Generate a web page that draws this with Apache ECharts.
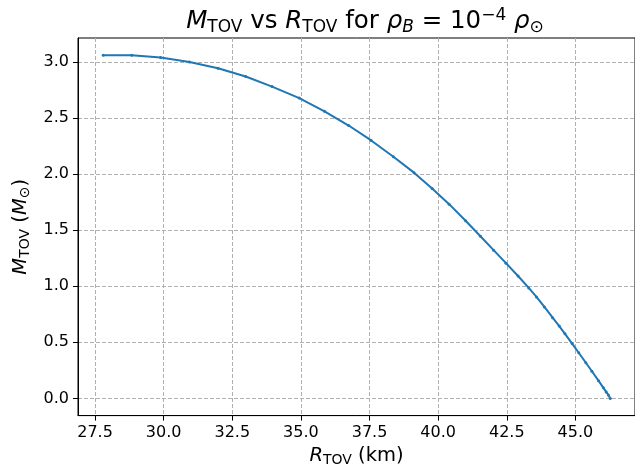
<!DOCTYPE html>
<html>
<head>
<meta charset="utf-8">
<script src="https://cdn.jsdelivr.net/npm/echarts@6/dist/echarts.min.js"></script>
<style>html,body{margin:0;padding:0;background:#fff}#c{width:635px;height:472px}</style>
</head>
<body>
<div id="c"></div>
<script>
const radiusKm = [27.80, 28.84, 29.89, 30.94, 31.98, 32.99, 33.95, 34.94, 35.86, 36.74, 37.56, 38.37, 39.12, 39.78, 40.40, 41.00, 41.54, 42.02, 42.47, 42.91, 43.30, 43.58, 43.87, 44.17, 44.41, 44.62, 44.88, 45.12, 45.38, 45.60, 45.84, 46.02, 46.12, 46.20, 46.27];
const massSun = [3.06, 3.06, 3.04, 3.00, 2.944, 2.87, 2.78, 2.678, 2.56, 2.433, 2.30, 2.155, 2.013, 1.872, 1.732, 1.584, 1.446, 1.322, 1.206, 1.091, 0.985, 0.905, 0.815, 0.72, 0.645, 0.576, 0.489, 0.407, 0.318, 0.242, 0.158, 0.094, 0.058, 0.03, 0.0];
const xTicks = [27.5, 30.0, 32.5, 35.0, 37.5, 40.0, 42.5, 45.0];
const yTicks = [0.0, 0.5, 1.0, 1.5, 2.0, 2.5, 3.0];

const FONT = 'DejaVu Sans';
const chart = echarts.init(document.getElementById('c'), null, {renderer: 'canvas'});
const gridStyle = {show: true, lineStyle: {color: '#b0b0b0', width: 1, type: [4, 2]}};
const axisNameRich = {
  i: {fontFamily: FONT, fontSize: 19.5, fontStyle: 'italic', fontWeight: 'normal', color: '#000'},
  n: {fontFamily: FONT, fontSize: 19.5, fontWeight: 'normal', color: '#000'},
  s: {fontFamily: FONT, fontSize: 14, fontWeight: 'normal', color: '#000', padding: [9, 0, 0, 0]}
};
chart.setOption({
  animation: false,
  backgroundColor: '#fff',
  title: {
    text: '{i|M}{s|TOV}{n| vs }{i|R}{s|TOV}{n| for }{i|ρ}{si|B}{n| = 10}{p|−4}{i| ρ}{s|⊙}',
    left: 360,
    textAlign: 'center',
    top: 2,
    textStyle: {
      fontWeight: 'normal',
      rich: {
        i: {fontFamily: FONT, fontSize: 24.5, fontStyle: 'italic', fontWeight: 'normal', color: '#000'},
        n: {fontFamily: FONT, fontSize: 24.5, fontWeight: 'normal', color: '#000'},
        s: {fontFamily: FONT, fontSize: 17, fontWeight: 'normal', color: '#000', padding: [11, 0, 0, 0]},
        si: {fontFamily: FONT, fontSize: 17, fontStyle: 'italic', fontWeight: 'normal', color: '#000', padding: [11, 0, 0, 0]},
        p: {fontFamily: FONT, fontSize: 17, fontWeight: 'normal', color: '#000', padding: [0, 0, 13, 0]}
      }
    }
  },
  grid: {left: 78, top: 38, width: 566, height: 379, show: true, borderColor: '#000', borderWidth: 1, backgroundColor: 'transparent', containLabel: false},
  xAxis: {
    type: 'value', min: 26.88, max: 47.17,
    name: '{i|R}{s|TOV}{n| (km)}',
    nameLocation: 'middle', nameGap: 26,
    nameTextStyle: {rich: axisNameRich},
    axisLine: {show: true, onZero: false, lineStyle: {color: '#000', width: 1}},
    axisTick: {show: true, length: 5, lineStyle: {color: '#000', width: 1}, customValues: xTicks},
    axisLabel: {customValues: xTicks, formatter: v => v.toFixed(1), fontFamily: FONT, fontSize: 16, color: '#000', margin: 9},
    splitLine: gridStyle
  },
  yAxis: {
    type: 'value', min: -0.1535, max: 3.2135,
    name: '{i|M}{s|TOV}{n| (}{i|M}{s|⊙}{n|)}',
    nameLocation: 'middle', nameGap: 44, nameRotate: 90,
    nameTextStyle: {rich: axisNameRich},
    axisLine: {show: true, onZero: false, lineStyle: {color: '#000', width: 1}},
    axisTick: {show: true, length: 5, lineStyle: {color: '#000', width: 1}, customValues: yTicks},
    axisLabel: {customValues: yTicks, formatter: v => v.toFixed(1), fontFamily: FONT, fontSize: 16, color: '#000', margin: 9},
    splitLine: gridStyle
  },
  series: [{
    type: 'line',
    data: radiusKm.map((r, i) => [r, massSun[i]]),
    symbol: 'circle', symbolSize: 3, showSymbol: true,
    lineStyle: {color: '#1f77b4', width: 2},
    itemStyle: {color: '#1f77b4'},
    clip: false
  }]
});
</script>
</body>
</html>
